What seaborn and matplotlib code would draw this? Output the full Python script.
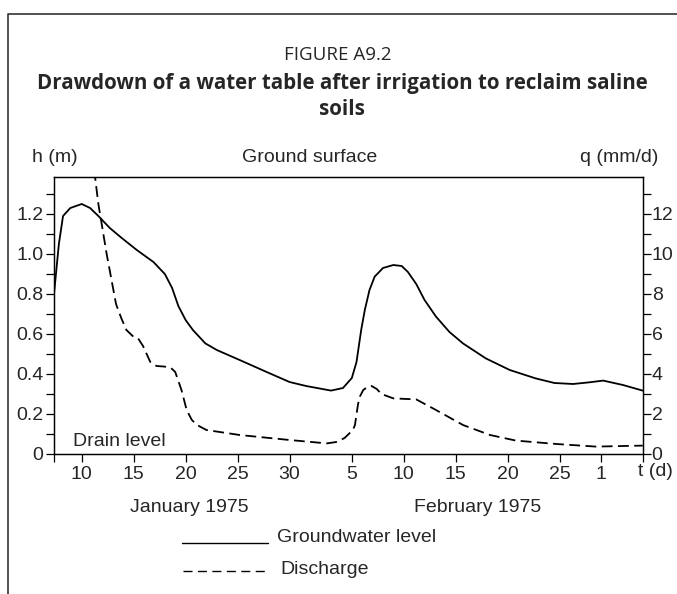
import matplotlib
matplotlib.use("Agg")
import numpy as np
import seaborn as sns
from matplotlib import pyplot as plt
from matplotlib.lines import Line2D

# days counted from 1 January 1975 (February d -> 31 + d, 1 March -> 60)
x_ticks = [7.33, 10, 15, 20, 25, 30, 36, 41, 46, 51, 56, 60, 64]
x_labels = ['', '10', '15', '20', '25', '30', '5', '10', '15', '20', '25', '1', '']

h_ticks = [0, 0.2, 0.4, 0.6, 0.8, 1.0, 1.2]
h_labels = ['0', '0.2', '0.4', '0.6', '0.8', '1.0', '1.2']
h_minor = [0.1, 0.3, 0.5, 0.7, 0.9, 1.1, 1.3]
q_ticks = [0, 2, 4, 6, 8, 10, 12]
q_minor = [1, 3, 5, 7, 9, 11, 13]

# groundwater level h (m)
gw_day = [7.33, 7.8, 8.2, 8.9, 10.0, 10.8, 11.6, 12.7, 13.85, 15.3, 16.9, 18.0,
          18.7, 19.3, 20.0, 20.7, 21.9, 23.0, 25.2, 27.8, 30.0, 31.6, 34.0, 35.15,
          36.0, 36.45, 36.9, 37.25, 37.7, 38.2, 39.0, 40.0, 40.8, 41.4, 42.2, 43.0,
          44.1, 45.4, 46.7, 48.9, 51.2, 53.7, 55.5, 57.3, 58.8, 60.2, 62.1, 64.0]
gw_h = [0.80, 1.05, 1.19, 1.23, 1.25, 1.23, 1.19, 1.13, 1.08, 1.02, 0.96, 0.90,
        0.83, 0.74, 0.67, 0.62, 0.553, 0.52, 0.47, 0.41, 0.36, 0.34, 0.317, 0.33,
        0.38, 0.46, 0.62, 0.72, 0.82, 0.887, 0.93, 0.945, 0.94, 0.91, 0.85, 0.77,
        0.687, 0.61, 0.553, 0.478, 0.42, 0.378, 0.355, 0.35, 0.358, 0.367, 0.345, 0.317]

# discharge q (mm/d)
q_day = [11.2, 11.6, 12.4, 13.3, 13.8, 14.3, 14.9, 15.4, 15.9, 16.6, 17.2, 18.0,
         18.6, 19.0, 19.6, 20.1, 20.6, 21.1, 22.0, 25.2, 30.0, 33.6, 34.5, 35.3,
         36.1, 36.3, 36.6, 36.8, 37.1, 37.5, 37.9, 38.4, 38.85, 40.0, 42.2, 44.1,
         46.7, 49.3, 51.8, 55.7, 59.5, 64.0]
q_val = [14.2, 12.5, 10.0, 7.5, 6.8, 6.2, 5.9, 5.8, 5.4, 4.6, 4.4, 4.37,
         4.3, 4.1, 3.2, 2.2, 1.7, 1.45, 1.2, 0.95, 0.7, 0.53, 0.6, 0.8,
         1.2, 1.45, 2.5, 2.9, 3.2, 3.35, 3.4, 3.25, 3.0, 2.78, 2.73, 2.2,
         1.45, 0.95, 0.67, 0.5, 0.37, 0.42]

sns.set_style("ticks")
plt.rcParams['font.family'] = ['Liberation Sans', 'DejaVu Sans']
plt.rcParams['font.size'] = 14

W, H = 677, 594
fig = plt.figure(figsize=(W / 100, H / 100), dpi=100)


def fx(px):
    return px / W


def fy(py):
    return 1 - py / H


ax = fig.add_axes([fx(54), fy(454), (642.7 - 54) / W, (454 - 177) / H])
sns.lineplot(x=gw_day, y=gw_h, ax=ax, color='black', lw=1.3,
             estimator=None, sort=False)
ax.set_xlim(7.33, 64)
ax.set_ylim(0, 1.385)

ax2 = ax.twinx()
sns.lineplot(x=q_day, y=q_val, ax=ax2, color='black', lw=1.3,
             ls=(0, (6, 3)), estimator=None, sort=False)
ax2.set_ylim(0, 13.85)

for a in (ax, ax2):
    a.set_xlabel('')
    a.set_ylabel('')
    for s in a.spines.values():
        s.set_linewidth(0.9)
        s.set_color('black')

ax.set_xticks(x_ticks)
ax.set_xticklabels(x_labels)
ax.set_yticks(h_ticks)
ax.set_yticklabels(h_labels)
ax.set_yticks(h_minor, minor=True)
ax.tick_params(axis='both', which='both', direction='out', length=5.5,
               width=0.9, color='black', labelsize=14, pad=3)
ax.tick_params(axis='y', which='major', pad=2)

ax2.set_yticks(q_ticks)
ax2.set_yticklabels([str(v) for v in q_ticks])
ax2.set_yticks(q_minor, minor=True)
ax2.tick_params(axis='y', which='both', direction='out', length=5.5,
                width=0.9, color='black', labelsize=14, pad=1)

# tick label at the right end of the time axis
ax.annotate('t (d)', xy=(64, 0), xycoords=('data', 'axes fraction'),
            xytext=(13, -9), textcoords='offset pixels',
            ha='center', va='top', fontsize=14)

ax.text(0.032, 0.045, 'Drain level', transform=ax.transAxes,
        fontsize=14, ha='left', va='center')

# headings
fig.text(fx(338), fy(55), 'FIGURE A9.2', family='Open Sans',
         fontsize=13.5, ha='center', va='center')
fig.text(fx(342), fy(84), 'Drawdown of a water table after irrigation to reclaim saline',
         family='Open Sans', fontweight='bold', fontsize=14.8, ha='center', va='center')
fig.text(fx(342), fy(110), 'soils', family='Open Sans', fontweight='bold',
         fontsize=14.8, ha='center', va='center')

fig.text(fx(32), fy(158), 'h (m)', ha='left', va='center', fontsize=14)
fig.text(fx(310), fy(158), 'Ground surface', ha='center', va='center', fontsize=14)
fig.text(fx(658), fy(158), 'q (mm/d)', ha='right', va='center', fontsize=14)

fig.text(fx(189), fy(507), 'January 1975', ha='center', va='center', fontsize=14)
fig.text(fx(478), fy(507), 'February 1975', ha='center', va='center', fontsize=14)

# key
fig.add_artist(Line2D([fx(182), fx(268)], [fy(543), fy(543)],
                      color='black', lw=1.0))
fig.text(fx(277), fy(538), 'Groundwater level', ha='left', va='center', fontsize=14)
fig.add_artist(Line2D([fx(183), fx(265)], [fy(571), fy(571)],
                      color='black', lw=1.0, ls=(0, (6.5, 3.9))))
fig.text(fx(280), fy(570), 'Discharge', ha='left', va='center', fontsize=14)

# page frame
fig.add_artist(Line2D([fx(8), fx(8), fx(677)], [fy(594), fy(13.5), fy(13.5)],
                      color='#333333', lw=1.2))

fig.savefig('out.png', dpi=100)
